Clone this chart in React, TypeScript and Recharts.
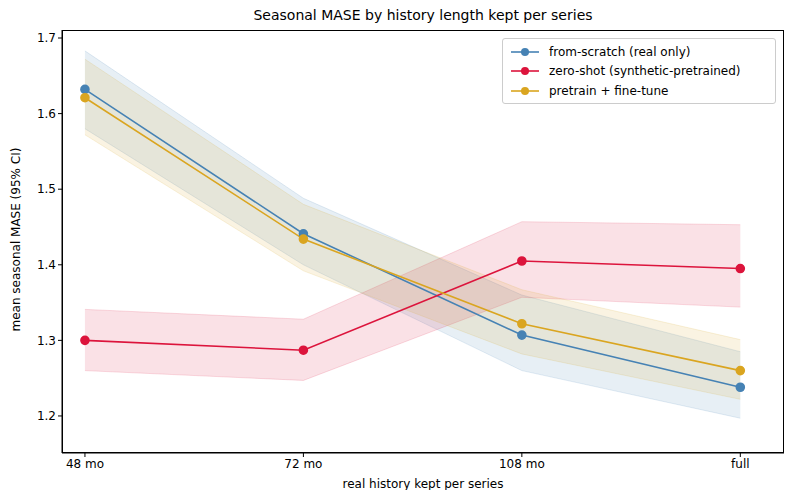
import React from 'react';
import { ComposedChart, Line, Area, XAxis, YAxis } from 'recharts';

const categories = ['48 mo', '72 mo', '108 mo', 'full'];
const scratchMean = [1.632, 1.441, 1.307, 1.238];
const scratchLo = [1.58, 1.40, 1.26, 1.197];
const scratchHi = [1.683, 1.488, 1.36, 1.285];
const zeroMean = [1.300, 1.287, 1.405, 1.395];
const zeroLo = [1.260, 1.247, 1.357, 1.344];
const zeroHi = [1.341, 1.328, 1.457, 1.453];
const ftMean = [1.621, 1.434, 1.322, 1.260];
const ftLo = [1.572, 1.392, 1.282, 1.222];
const ftHi = [1.672, 1.480, 1.367, 1.301];
const yTicks = [1.2, 1.3, 1.4, 1.5, 1.6, 1.7];

const data = categories.map((c, i) => ({
  x: i, c,
  s: scratchMean[i], sb: [scratchLo[i], scratchHi[i]],
  z: zeroMean[i], zb: [zeroLo[i], zeroHi[i]],
  f: ftMean[i], fb: [ftLo[i], ftHi[i]],
}));

const BLUE = '#4682b4', RED = '#dc143c', GOLD = '#daa520';
const font = 'DejaVu Sans, sans-serif';

const legendItems = [
  { label: 'from-scratch (real only)', color: BLUE },
  { label: 'zero-shot (synthetic-pretrained)', color: RED },
  { label: 'pretrain + fine-tune', color: GOLD },
];

export default function App() {
  return (
    <div style={{ position: 'absolute', left: 0, top: 0, width: 790, height: 490, fontFamily: font, background: '#fff' }}>
      <div style={{ position: 'absolute', top: 7, left: 62, width: 722, textAlign: 'center', fontSize: 14 }}>
        Seasonal MASE by history length kept per series
      </div>
      <ComposedChart width={790} height={490} data={data} margin={{ top: 30, right: 6, left: 0, bottom: 0 }}>
        <XAxis dataKey="x" type="number" domain={[-0.105, 3.2]} ticks={[0, 1, 2, 3]}
          tickFormatter={(v: number) => categories[v]} height={37} stroke="#000"
          tick={{ fontSize: 12, fill: '#000', fontFamily: font }} tickSize={4}
          label={{ value: 'real history kept per series', position: 'insideBottom', offset: 2, fontSize: 12, fill: '#000', fontFamily: font }} />
        <YAxis type="number" domain={[1.151, 1.7106]} ticks={yTicks} width={62} stroke="#000"
          tickFormatter={(v: number) => v.toFixed(1)} tickSize={4}
          tick={{ fontSize: 12, fill: '#000', fontFamily: font }}
          label={{ value: 'mean seasonal MASE (95% CI)', angle: -90, position: 'insideLeft', offset: 16, dy: 90, fontSize: 12, fill: '#000', fontFamily: font }} />
        <Area dataKey="sb" type="linear" fill={BLUE} fillOpacity={0.13} stroke={BLUE} strokeOpacity={0.15} isAnimationActive={false} />
        <Area dataKey="zb" type="linear" fill={RED} fillOpacity={0.13} stroke={RED} strokeOpacity={0.15} isAnimationActive={false} />
        <Area dataKey="fb" type="linear" fill={GOLD} fillOpacity={0.13} stroke={GOLD} strokeOpacity={0.15} isAnimationActive={false} />
        <Line dataKey="s" type="linear" stroke={BLUE} strokeWidth={1.6} dot={{ r: 4, fill: BLUE, stroke: BLUE }} isAnimationActive={false} />
        <Line dataKey="z" type="linear" stroke={RED} strokeWidth={1.6} dot={{ r: 4, fill: RED, stroke: RED }} isAnimationActive={false} />
        <Line dataKey="f" type="linear" stroke={GOLD} strokeWidth={1.6} dot={{ r: 4, fill: GOLD, stroke: GOLD }} isAnimationActive={false} />
      </ComposedChart>
      <div style={{ position: 'absolute', top: 30, right: 6, width: 722, height: 423, border: '1px solid #000', boxSizing: 'border-box', pointerEvents: 'none' }} />
      <div style={{ position: 'absolute', left: 502, top: 38, width: 274, height: 66, border: '1px solid #ccc', borderRadius: 3, background: 'rgba(255,255,255,0.8)', boxSizing: 'border-box', padding: '3px 0 0 8px', fontSize: 12 }}>
        {legendItems.map((it) => (
          <div key={it.label} style={{ display: 'flex', alignItems: 'center', height: 19.5 }}>
            <svg width={28} height={12} style={{ marginRight: 10 }}>
              <line x1={0} y1={6} x2={28} y2={6} stroke={it.color} strokeWidth={1.6} />
              <circle cx={14} cy={6} r={4} fill={it.color} />
            </svg>
            <span>{it.label}</span>
          </div>
        ))}
      </div>
    </div>
  );
}
